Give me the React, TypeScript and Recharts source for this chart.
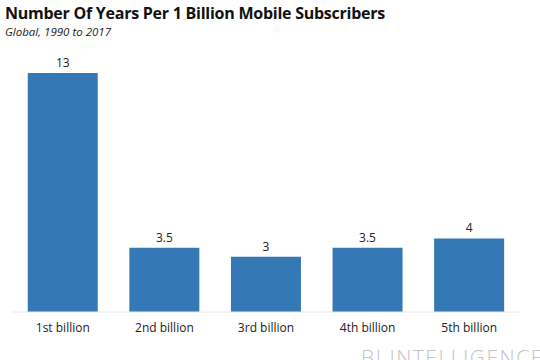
import React from "react";
import { BarChart, Bar, XAxis, YAxis, LabelList } from "recharts";

const categories = ["1st billion", "2nd billion", "3rd billion", "4th billion", "5th billion"];
const years = [13, 3.5, 3, 3.5, 4];

const data = categories.map((name, i) => ({ name, years: years[i] }));

const FONT = "'Open Sans', 'Noto Sans', sans-serif";

export default function App() {
  return (
    <div style={{ position: "absolute", left: 0, top: 0, width: 540, height: 360, background: "#fff", overflow: "hidden", fontFamily: FONT }}>
      <div style={{ position: "absolute", left: 5, top: 3, fontSize: 16, lineHeight: "20px", fontWeight: 700, color: "#111", whiteSpace: "nowrap", letterSpacing: -0.25 }}>
        Number Of Years Per 1 Billion Mobile Subscribers
      </div>
      <div style={{ position: "absolute", left: 5, top: 24, fontSize: 11.5, lineHeight: "15px", fontStyle: "italic", color: "#222", whiteSpace: "nowrap" }}>
        Global, 1990 to 2017
      </div>
      <BarChart width={540} height={360} data={data} margin={{ top: 73, right: 20, bottom: 18, left: 12 }} barCategoryGap="15.5%">
        <XAxis
          dataKey="name"
          height={30}
          tickLine={false}
          tickSize={0}
          tickMargin={11}
          axisLine={{ stroke: "#e8e8e8" }}
          tick={{ fontSize: 12, fill: "#222", fontFamily: FONT }}
          interval={0}
        />
        <YAxis hide domain={[0, 13]} />
        <Bar dataKey="years" fill="#3479b5" isAnimationActive={false}>
          <LabelList dataKey="years" position="top" offset={6} style={{ fontSize: 12, fill: "#222", fontFamily: FONT }} />
        </Bar>
      </BarChart>
      <div style={{ position: "absolute", left: 361, top: 344, fontSize: 21, lineHeight: "26px", fontWeight: 300, color: "#c4c4c4", whiteSpace: "nowrap", letterSpacing: 1.5 }}>
        BI INTELLIGENCE
      </div>
    </div>
  );
}
